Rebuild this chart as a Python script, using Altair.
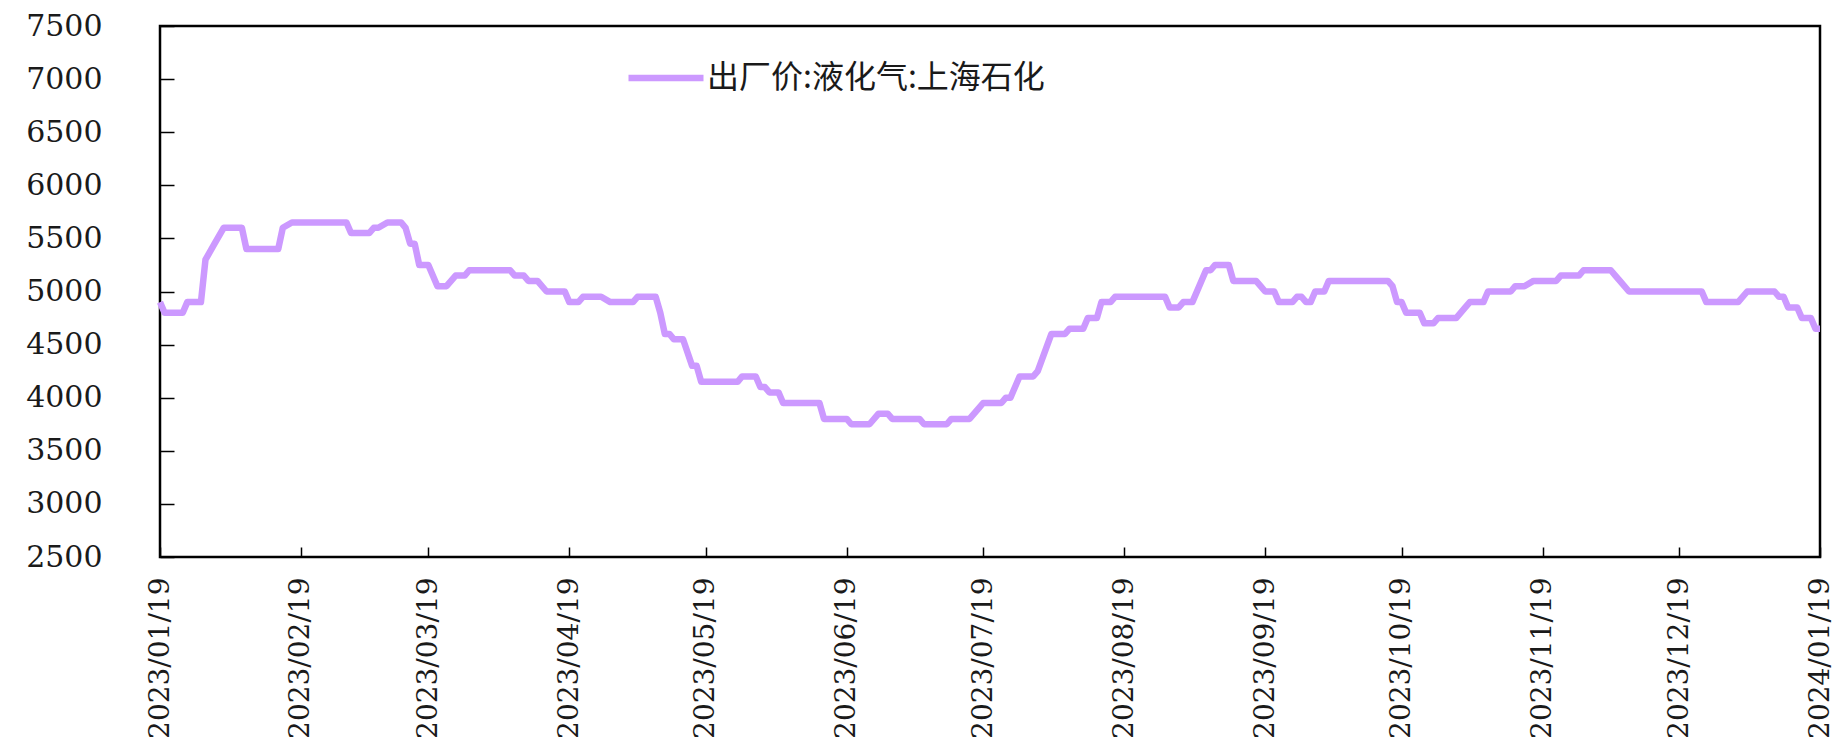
import altair as alt
import pandas as pd

# ---- data (turning points of the daily series) ----
dates = [
    "2023-01-19", "2023-01-20", "2023-01-24", "2023-01-25", "2023-01-28", "2023-01-29",
    "2023-01-31", "2023-02-02", "2023-02-06", "2023-02-07", "2023-02-14", "2023-02-15",
    "2023-02-17", "2023-03-01", "2023-03-02", "2023-03-06", "2023-03-07", "2023-03-08",
    "2023-03-10", "2023-03-13", "2023-03-14", "2023-03-15", "2023-03-16", "2023-03-17",
    "2023-03-19", "2023-03-21", "2023-03-23", "2023-03-25", "2023-03-27", "2023-03-28",
    "2023-04-06", "2023-04-07", "2023-04-09", "2023-04-10", "2023-04-12", "2023-04-14",
    "2023-04-18", "2023-04-19", "2023-04-21", "2023-04-22", "2023-04-26", "2023-04-28",
    "2023-05-03", "2023-05-04", "2023-05-08", "2023-05-09", "2023-05-10", "2023-05-11",
    "2023-05-12", "2023-05-14", "2023-05-16", "2023-05-17", "2023-05-18", "2023-05-26",
    "2023-05-27", "2023-05-30", "2023-05-31", "2023-06-01", "2023-06-02", "2023-06-04",
    "2023-06-05", "2023-06-13", "2023-06-14", "2023-06-19", "2023-06-20", "2023-06-24",
    "2023-06-26", "2023-06-28", "2023-06-29", "2023-07-05", "2023-07-06", "2023-07-11",
    "2023-07-12", "2023-07-16", "2023-07-18", "2023-07-19", "2023-07-23", "2023-07-24",
    "2023-07-25", "2023-07-27", "2023-07-30", "2023-07-31", "2023-08-03", "2023-08-06",
    "2023-08-07", "2023-08-10", "2023-08-11", "2023-08-13", "2023-08-14", "2023-08-16",
    "2023-08-17", "2023-08-28", "2023-08-29", "2023-08-31", "2023-09-01", "2023-09-03",
    "2023-09-06", "2023-09-07", "2023-09-08", "2023-09-11", "2023-09-12", "2023-09-17",
    "2023-09-18", "2023-09-19", "2023-09-21", "2023-09-22", "2023-09-25", "2023-09-26",
    "2023-09-27", "2023-09-28", "2023-09-29", "2023-09-30", "2023-10-02", "2023-10-03",
    "2023-10-16", "2023-10-17", "2023-10-18", "2023-10-19", "2023-10-20", "2023-10-23",
    "2023-10-24", "2023-10-26", "2023-10-27", "2023-10-31", "2023-11-02", "2023-11-03",
    "2023-11-06", "2023-11-07", "2023-11-12", "2023-11-13", "2023-11-15", "2023-11-17",
    "2023-11-22", "2023-11-23", "2023-11-27", "2023-11-28", "2023-12-04", "2023-12-05",
    "2023-12-06", "2023-12-08", "2023-12-24", "2023-12-25", "2024-01-01", "2024-01-03",
    "2024-01-09", "2024-01-10", "2024-01-11", "2024-01-12", "2024-01-14", "2024-01-15",
    "2024-01-17", "2024-01-18", "2024-01-19",
]
prices = [
    4900, 4800, 4800, 4900, 4900, 5300,
    5450, 5600, 5600, 5400, 5400, 5600,
    5650, 5650, 5550, 5550, 5600, 5600,
    5650, 5650, 5600, 5450, 5450, 5250,
    5250, 5050, 5050, 5150, 5150, 5200,
    5200, 5150, 5150, 5100, 5100, 5000,
    5000, 4900, 4900, 4950, 4950, 4900,
    4900, 4950, 4950, 4800, 4600, 4600,
    4550, 4550, 4300, 4300, 4150, 4150,
    4200, 4200, 4100, 4100, 4050, 4050,
    3950, 3950, 3800, 3800, 3750, 3750,
    3850, 3850, 3800, 3800, 3750, 3750,
    3800, 3800, 3900, 3950, 3950, 4000,
    4000, 4200, 4200, 4250, 4600, 4600,
    4650, 4650, 4750, 4750, 4900, 4900,
    4950, 4950, 4850, 4850, 4900, 4900,
    5200, 5200, 5250, 5250, 5100, 5100,
    5050, 5000, 5000, 4900, 4900, 4950,
    4950, 4900, 4900, 5000, 5000, 5100,
    5100, 5050, 4900, 4900, 4800, 4800,
    4700, 4700, 4750, 4750, 4850, 4900,
    4900, 5000, 5000, 5050, 5050, 5100,
    5100, 5150, 5150, 5200, 5200, 5150,
    5100, 5000, 5000, 4900, 4900, 5000,
    5000, 4950, 4950, 4850, 4850, 4750,
    4750, 4650, 4650,
]
series_name = "出厂价:液化气:上海石化"
x_tick_dates = [
    (2023, 1), (2023, 2), (2023, 3), (2023, 4), (2023, 5), (2023, 6), (2023, 7),
    (2023, 8), (2023, 9), (2023, 10), (2023, 11), (2023, 12), (2024, 1),
]
y_ticks = [2500, 3000, 3500, 4000, 4500, 5000, 5500, 6000, 6500, 7000, 7500]

df = pd.DataFrame({"date": dates, "price": prices, "series": series_name})

tick_values = [alt.DateTime(year=y, month=m, date=19, utc=True) for y, m in x_tick_dates]
x_domain = [alt.DateTime(year=2023, month=1, date=19, utc=True),
            alt.DateTime(year=2024, month=1, date=19, utc=True)]

chart = alt.Chart(df).mark_line(strokeWidth=6.5, strokeJoin="round").encode(
    x=alt.X(
        "date:T",
        scale=alt.Scale(type="utc", domain=x_domain, nice=False),
        axis=alt.Axis(
            values=tick_values, format="%Y/%m/%d", labelAngle=-90,
            labelAlign="right", labelBaseline="middle",
            labelFont="DejaVu Serif", labelFontSize=28, labelColor="#1a1a1a",
            tickColor="black", tickSize=10, tickWidth=1.5, offset=-10,
            labelPadding=20, domain=False, grid=False, title=None,
            labelOverlap=False, labelFlush=False, labelBound=False, labelLimit=0,
        ),
    ),
    y=alt.Y(
        "price:Q",
        scale=alt.Scale(domain=[2500, 7500], nice=False, zero=False),
        axis=alt.Axis(
            values=y_ticks, format="d",
            labelFont="DejaVu Serif", labelFontSize=30, labelColor="#1a1a1a",
            tickColor="black", tickSize=14, tickWidth=1.5, offset=-14,
            labelPadding=58, domain=False, grid=False, title=None,
            labelOverlap=False, labelFlush=False, labelLimit=0,
        ),
    ),
    color=alt.Color(
        "series:N",
        scale=alt.Scale(range=["#CC99FF"]),
        legend=alt.Legend(
            title=None, orient="none", legendX=465, legendY=11, padding=0,
            symbolType="stroke", symbolSize=5625, symbolStrokeWidth=6.5,
            labelFont="Noto Sans CJK SC", labelFontSize=32, labelColor="#1a1a1a",
            labelOffset=0, labelLimit=0,
        ),
    ),
).properties(
    width=1660,
    height=531,
    padding={"left": 152, "top": 18, "right": 19, "bottom": 184},
    autosize="none",
    background="white",
).configure_view(
    stroke="black", strokeWidth=2.5
)

chart.save("out.html", embed_options={"renderer": "svg", "actions": False})
